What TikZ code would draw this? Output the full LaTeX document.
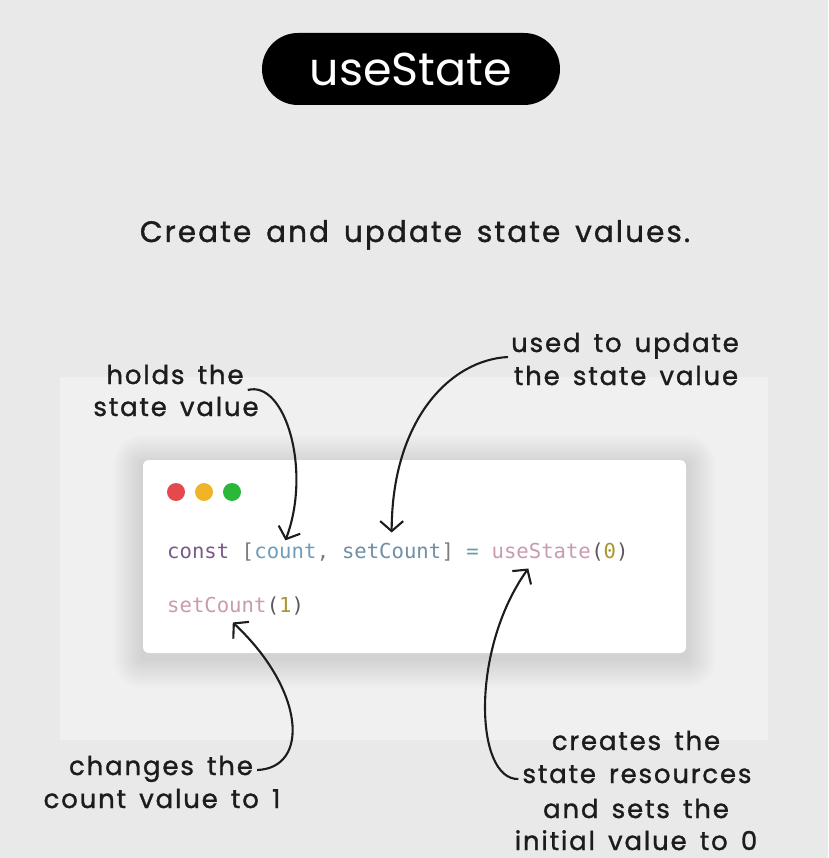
\documentclass[tikz,border=0pt]{standalone}
\usepackage{fontspec}
\setmainfont{Poppins}
\newfontfamily\handfont[LetterSpace=7,WordSpace=1.5,FakeBold=1.2]{Poppins}
\newfontfamily\codefont{DejaVu Sans Mono}
\usetikzlibrary{arrows.meta,calc,positioning}
\definecolor{bgcol}{HTML}{E9E9E9}
\definecolor{panelcol}{HTML}{F0F0F0}
\definecolor{inkcol}{HTML}{1C1C1C}
\definecolor{kwcol}{HTML}{7A5A88}
\definecolor{punct}{HTML}{7C7C7C}
\definecolor{varcol}{HTML}{6E9CBA}
\definecolor{setcol}{HTML}{6F8FA4}
\definecolor{opcol}{HTML}{6A9CA2}
\definecolor{fncol}{HTML}{C99BB0}
\definecolor{parcol}{HTML}{5A5A5A}
\definecolor{numcol}{HTML}{A8962E}
\definecolor{dotred}{HTML}{E5484D}
\definecolor{dotyellow}{HTML}{F0B429}
\definecolor{dotgreen}{HTML}{2BB73A}
\newcommand\codesp{\hphantom{0}}
\tikzset{
  pill/.style     = {fill=black, text=white, rounded corners=36pt, minimum width=298pt,
                     minimum height=72pt, font=\fontsize{46}{50}\selectfont},
  subtitle/.style = {text=inkcol, inner sep=0pt, anchor=base, font=\handfont\fontsize{29.5}{36}\selectfont},
  note/.style     = {text=inkcol, inner sep=0pt, anchor=base, font=\handfont\fontsize{26}{30}\selectfont},
  code/.style     = {inner sep=0pt, anchor=base west, font=\codefont\fontsize{20.6}{24}\selectfont},
  light/.style    = {circle, inner sep=0pt, minimum size=18pt},
  pointer/.style  = {-{Straight Barb[length=10pt,width=23pt]}, line width=2.1pt, inkcol},
}

\begin{document}
\begin{tikzpicture}[x=1pt,y=-1pt]
  \fill[bgcol] (0,0) rectangle (828,858);
  \useasboundingbox (0,0) rectangle (828,858);
  \fill[panelcol] (60,377) rectangle (768,740);

  % title and subtitle
  \node[pill] (title) at (411,69) {useState};
  \node[subtitle] (sub) at (415,242) {Create and update state values.};

  % code window with soft shadow
  \foreach \s in {2,4,...,30}
    \fill[black, opacity=0.009, rounded corners=\s pt] (143-\s,460-\s+5) rectangle (686+\s,653+\s+5);
  \fill[white, rounded corners=6pt] (143,460) rectangle (686,653);
  \node[light, fill=dotred]    (red)    at (176,492) {};
  \node[light, fill=dotyellow] (yellow) at (204,492) {};
  \node[light, fill=dotgreen]  (green)  at (232,492) {};

  \node[code] (kw)   at (167,558)       {{\color{kwcol}const}\codesp{\color{punct}[}};
  \node[code, text=varcol] (cnt)  at (kw.base east)  {count};
  \node[code, text=punct]  (sep)  at (cnt.base east) {,\codesp};
  \node[code, text=setcol] (setc) at (sep.base east) {setCount};
  \node[code] (eq)   at (setc.base east) {{\color{punct}]}\codesp{\color{opcol}=}\codesp};
  \node[code, text=fncol]  (use)  at (eq.base east)  {useState};
  \node[code] (arg)  at (use.base east)  {{\color{parcol}(}{\color{numcol}0}{\color{parcol})}};
  \node[code, text=fncol]  (setc2) at (167,612)      {setCount};
  \node[code] (arg2) at (setc2.base east) {{\color{parcol}(}{\color{numcol}1}{\color{parcol})}};

  % annotations
  \node[note] (hold1) at (175,384) {holds the};
  \node[note] (hold2) at (176,416) {state value};
  \node[note] (used1) at (625,352) {used to update};
  \node[note] (used2) at (626,385) {the state value};
  \node[note] (chg1)  at (161,775) {changes the};
  \node[note] (chg2)  at (162,808) {count value to 1};
  \node[note] (cr1)   at (636,750) {creates the};
  \node[note] (cr2)   at (637,783) {state resources};
  \node[note] (cr3)   at (636,818) {and sets the};
  \node[note] (cr4)   at (636,850) {initial value to 0};

  % pointers
  \draw[pointer] ([xshift=4pt,yshift=-6pt]hold1.base east) .. controls (285,380) and (312,470) .. ([yshift=3pt]cnt.north);
  \draw[pointer] ([xshift=-3pt,yshift=-5pt]used1.base west) .. controls (450,360) and (392,420) .. ([yshift=10pt]setc.north);
  \draw[pointer] ([xshift=4pt,yshift=5pt]chg1.base east) .. controls (310,768) and (305,690) .. ([xshift=16pt,yshift=-10pt]setc2.south);
  \draw[pointer] ([xshift=-4pt,yshift=4pt]cr2.base west) .. controls (475,780) and (470,650) .. ([xshift=-13pt,yshift=-10pt]use.south);
\end{tikzpicture}
\end{document}
